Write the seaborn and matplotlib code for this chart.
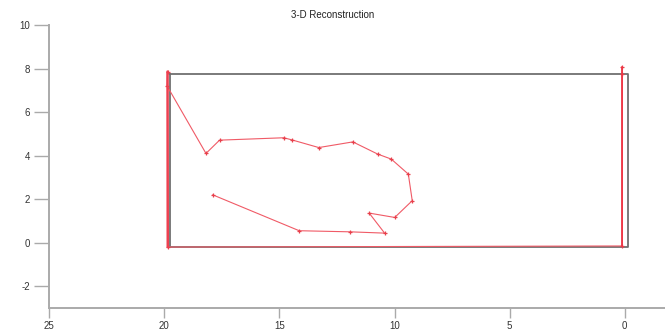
import numpy as np
import pandas as pd
import matplotlib
matplotlib.use("Agg")
import matplotlib.pyplot as plt
import seaborn as sns

# reconstructed path (red)
path_x = [0.10, 0.10, 0.10, 19.85, 19.86, 19.88, 18.19, 17.60, 14.81, 14.45, 13.29,
          11.81, 10.73, 10.14, 9.40, 9.23, 9.99, 11.10, 10.43, 11.94, 14.14, 17.90]
path_y = [8.09, 7.75, -0.15, -0.20, 7.86, 7.20, 4.10, 4.71, 4.82, 4.72, 4.37,
          4.63, 4.07, 3.84, 3.15, 1.93, 1.16, 1.36, 0.44, 0.50, 0.55, 2.20]

# reference frame (grey)
frame_x = [19.75, -0.13, -0.13, 19.75, 19.75]
frame_y = [7.75, 7.75, -0.18, -0.18, 7.75]

x_ticks = [25, 20, 15, 10, 5, 0]
y_ticks = [-2, 0, 2, 4, 6, 8, 10]

sns.set_style("ticks")
plt.rcParams["font.family"] = ["Liberation Sans", "DejaVu Sans"]
plt.rcParams["axes.unicode_minus"] = False

fig = plt.figure(figsize=(6.65, 3.33), dpi=100)
ax = fig.add_axes([0.074, 0.075, 0.926, 0.85])

frame = pd.DataFrame({"x": frame_x, "y": frame_y})
path = pd.DataFrame({"x": path_x, "y": path_y})

sns.lineplot(data=frame, x="x", y="y", sort=False, estimator=None, ax=ax,
             color="#707070", linewidth=1.3)
sns.lineplot(data=path, x="x", y="y", sort=False, estimator=None, ax=ax,
             color="#f05a66", linewidth=0.8, marker="+", markersize=3.5,
             markeredgewidth=0.9, markeredgecolor="#e8404c")
# vertical edges of the path are drawn heavier in the reference
ax.plot(path_x[:3], path_y[:3], color="#ee3545", linewidth=1.3)
ax.plot(path_x[3:5], path_y[3:5], color="#ee4050", linewidth=1.8)

ax.set_xlim(25, -1.75)
ax.set_ylim(-3, 10)
ax.set_xticks(x_ticks)
ax.set_yticks(y_ticks)
ax.set_xlabel("")
ax.set_ylabel("")

sns.despine(ax=ax)
for side in ["left", "bottom"]:
    ax.spines[side].set_color("#aaaaaa")
    ax.spines[side].set_linewidth(1.4)
ax.tick_params(axis="y", length=11, width=1, color="#aaaaaa", labelsize=7,
               labelcolor="#333333", pad=3)
ax.tick_params(axis="x", length=7, width=1, color="#aaaaaa", labelsize=7,
               labelcolor="#333333", pad=2)

fig.text(0.5, 0.955, "3-D Reconstruction", ha="center", va="center",
         fontsize=7, color="#222222")

fig.savefig("out.png", dpi=100)
